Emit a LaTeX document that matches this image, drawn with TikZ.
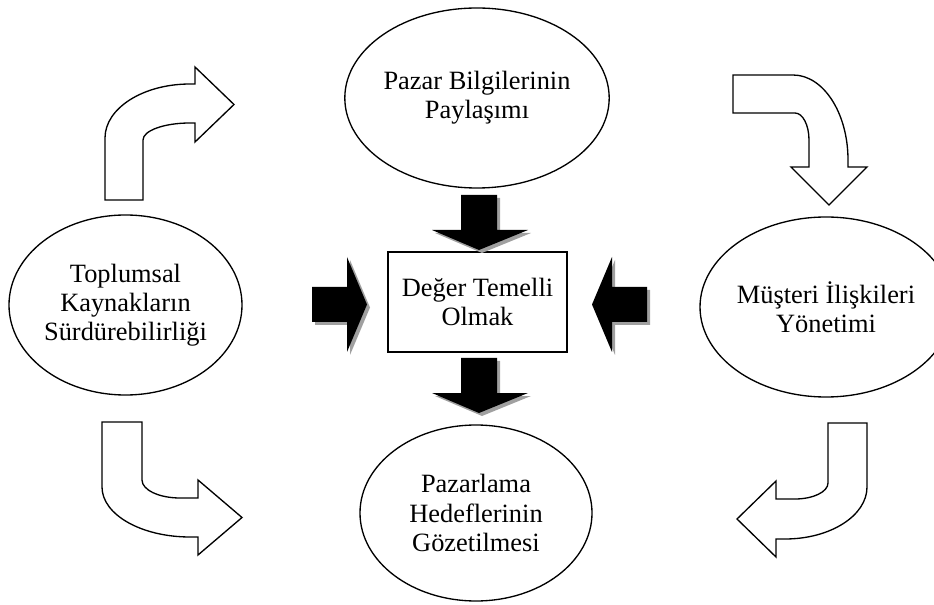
\documentclass[tikz,border=0pt]{standalone}
\usepackage{fontspec}
\setmainfont{Liberation Serif}
\usetikzlibrary{shapes.geometric}
\definecolor{shadowgray}{RGB}{160,160,160}
\tikzset{
  oval/.style={draw, ellipse, line width=1pt, inner sep=0pt, align=center,
    font=\fontsize{19.8pt}{21.8pt}\selectfont},
  centerbox/.style={draw, rectangle, line width=0.9pt, inner sep=0pt, align=center,
    minimum width=134.25pt, minimum height=75pt,
    font=\fontsize{19.8pt}{21.8pt}\selectfont},
  blockarrow/.style={fill=black},
  arrowshadow/.style={fill=shadowgray, shift={(3,3)}},
  hollowarrow/.style={draw, fill=white, line width=1pt, line join=miter}
}
\newcommand{\topdown}{(461,195) -- (497,195) -- (497,230) -- (528,230) -- (479,250) -- (432,230) -- (461,230) -- cycle}
\newcommand{\lowdown}{(461,358) -- (497,358) -- (497,393) -- (528,393) -- (479,413) -- (432,393) -- (461,393) -- cycle}
\newcommand{\fromleft}{(312,287) -- (347,287) -- (347,257) -- (367,304.5) -- (347,352) -- (347,322) -- (312,322) -- cycle}
\newcommand{\fromright}{(647,287) -- (612,287) -- (612,257) -- (592,304.5) -- (612,352) -- (612,322) -- (647,322) -- cycle}
\begin{document}
\begin{tikzpicture}[x=0.75pt, y=-0.75pt]
\useasboundingbox (0,0) rectangle (934,605);

% the five concepts
\node[oval, minimum width=171pt, minimum height=135pt] (pazar) at (477,98)
  {Pazar Bilgilerinin\\Paylaşımı};
\node[oval, minimum width=174.75pt, minimum height=135pt] (toplum) at (125.5,305)
  {Toplumsal\\Kaynakların\\Sürdürebilirliği};
\node[oval, minimum width=168pt, minimum height=135pt] (musteri) at (826,307)
  {Müşteri İlişkileri\\Yönetimi};
\node[oval, minimum width=174pt, minimum height=132pt] (hedef) at (476,513)
  {Pazarlama\\Hedeflerinin\\Gözetilmesi};
\node[centerbox] (deger) at (477.5,302) {Değer Temelli\\Olmak};

% solid arrows pointing at the central box, each with a soft drop shadow
\foreach \shape in {\topdown,\lowdown,\fromleft,\fromright}{
  \fill[arrowshadow] \shape;
  \fill[blockarrow] \shape;
}

% hollow bent arrows circling clockwise around the box
% upper left: rises from the left oval and turns right
\draw[hollowarrow] (105,200) -- (105,138)
  .. controls (105,108.2) and (143.1,84) .. (190,84)
  -- (195,84) -- (195,67) -- (234,104.5) -- (195,142) -- (195,123) -- (190,123)
  .. controls (164,123) and (143,130.6) .. (143,140) -- (143,200) -- cycle;
% upper right: runs right and bends down to the right oval
\draw[hollowarrow] (733,75) -- (793,75)
  .. controls (823.4,75) and (848,113.1) .. (848,160)
  -- (848,167) -- (867,167) -- (829,205) -- (791,167) -- (809,167) -- (809,140)
  .. controls (809,125.1) and (802.7,113) .. (795,113) -- (733,113) -- cycle;
% lower right: drops from the right oval and turns left
\draw[hollowarrow] (828,423) -- (867,423) -- (867,487)
  .. controls (867,515.7) and (830.3,539) .. (785,539)
  -- (776,539) -- (776,557) -- (737,519) -- (776,481) -- (776,499) -- (795,499)
  .. controls (813.2,499) and (828,491.8) .. (828,483) -- cycle;
% lower left: drops from the left oval and turns right
\draw[hollowarrow] (102,422) -- (142,422) -- (142,480)
  .. controls (142,489.9) and (159,498) .. (180,498)
  -- (198,498) -- (198,480) -- (242,517.5) -- (198,555) -- (198,537) -- (190,537)
  .. controls (141.4,537) and (102,514.6) .. (102,487) -- cycle;
\end{tikzpicture}
\end{document}
